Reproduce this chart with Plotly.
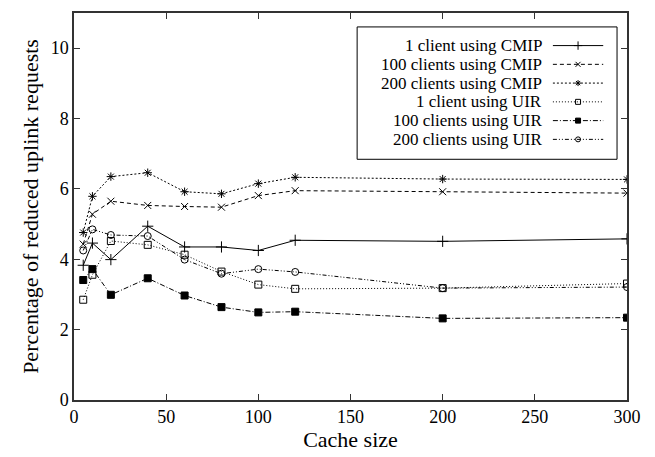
import plotly.graph_objects as go

cache_sizes = [5, 10, 20, 40, 60, 80, 100, 120, 200, 300]

series_names = [
    "1 client using CMIP",
    "100 clients using CMIP",
    "200 clients using CMIP",
    "1 client using UIR",
    "100 clients using UIR",
    "200 clients using UIR",
]

cmip_1 = [3.83, 4.46, 3.99, 4.94, 4.35, 4.35, 4.25, 4.54, 4.51, 4.58]
cmip_100 = [4.43, 5.28, 5.65, 5.53, 5.50, 5.48, 5.81, 5.95, 5.92, 5.88]
cmip_200 = [4.76, 5.79, 6.35, 6.46, 5.92, 5.86, 6.15, 6.33, 6.28, 6.27]
uir_1 = [2.85, 3.56, 4.52, 4.41, 4.13, 3.65, 3.28, 3.16, 3.18, 3.31]
uir_100 = [3.41, 3.72, 2.99, 3.46, 2.97, 2.64, 2.49, 2.51, 2.32, 2.34]
uir_200 = [4.25, 4.85, 4.69, 4.66, 3.99, 3.59, 3.72, 3.64, 3.18, 3.21]

x_ticks = [0, 50, 100, 150, 200, 250, 300]
y_ticks = [0, 2, 4, 6, 8, 10]

all_series = [cmip_1, cmip_100, cmip_200, uir_1, uir_100, uir_200]
dashes = ["solid", "4px,3px", "2px,2px", "1px,2px", "5px,2px,1px,2px", "4px,2px,1px,2px,1px,2px"]
symbols = ["cross-thin", "x-thin", "asterisk-open", "square-open", "square", "circle-open"]
sizes = [8, 7, 7, 7, 7, 7]

FONT = "Liberation Serif"
fig = go.Figure()

for vals, dash, sym, sz, name in zip(all_series, dashes, symbols, sizes, series_names):
    fig.add_trace(go.Scatter(
        x=cache_sizes, y=vals, mode="lines+markers", name=name,
        line=dict(color="black", width=1, dash=dash),
        marker=dict(symbol=sym, size=sz, color="black",
                    line=dict(color="black", width=1)),
        showlegend=False,
    ))

# gnuplot-style key: text on the left (right-aligned), sample on the right
row_px = [44, 63, 82, 101, 120, 139]
row_y = [(403 - p) / 392 for p in row_px]
for i, (dash, sym, sz, name) in enumerate(zip(dashes, symbols, sizes, series_names)):
    fig.add_trace(go.Scatter(
        x=[0.866, 0.957], y=[row_y[i], row_y[i]], mode="lines",
        line=dict(color="black", width=1, dash=dash),
        xaxis="x2", yaxis="y2", showlegend=False, hoverinfo="skip",
    ))
    fig.add_trace(go.Scatter(
        x=[0.9115], y=[row_y[i]], mode="markers",
        marker=dict(symbol=sym, size=sz - 2, color="black",
                    line=dict(color="black", width=1)),
        xaxis="x2", yaxis="y2", showlegend=False, hoverinfo="skip",
    ))
    fig.add_annotation(
        x=0.848, y=row_y[i], xref="paper", yref="paper",
        text=name, showarrow=False, xanchor="right", yanchor="middle",
        borderpad=0,
        font=dict(family=FONT, size=17, color="black"),
    )

fig.add_shape(type="rect", xref="paper", yref="paper",
              x0=0.512, x1=0.982, y0=0.622, y1=0.964,
              line=dict(color="black", width=1), layer="above")

axis_common = dict(
    showgrid=False, zeroline=False, showline=True, linecolor="#333",
    linewidth=1.5, mirror="ticks", ticks="inside", ticklen=6,
    tickcolor="#333", tickwidth=1,
    tickfont=dict(family=FONT, size=18, color="black"),
)

fig.update_layout(
    width=655, height=457,
    margin=dict(l=74, r=28, t=11, b=54),
    paper_bgcolor="white", plot_bgcolor="white",
    xaxis=dict(range=[0, 300], tickvals=x_ticks,
               title=dict(text="Cache size", font=dict(family=FONT, size=22, color="black"), standoff=3),
               **axis_common),
    yaxis=dict(range=[0, 11], tickvals=y_ticks,
               title=dict(text="Percentage of reduced uplink requests", font=dict(family=FONT, size=22, color="black"), standoff=6),
               **axis_common),
    xaxis2=dict(overlaying="x", range=[0, 1], visible=False),
    yaxis2=dict(overlaying="y", range=[0, 1], visible=False),
    showlegend=False,
)

fig.write_html("out.html")
